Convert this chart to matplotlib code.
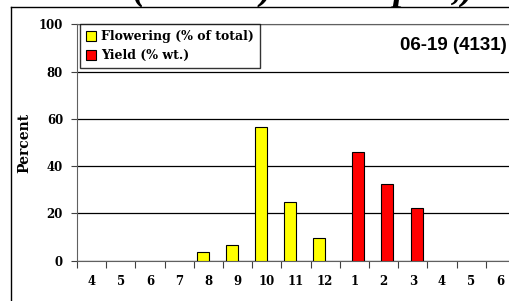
import matplotlib.pyplot as plt
import numpy as np

months = ["4", "5", "6", "7", "8", "9", "10", "11", "12", "1", "2", "3", "4", "5", "6"]
flowering = [0, 0, 0, 0, 3.5, 6.5, 56.5, 25, 9.7, 0, 0, 0, 0, 0, 0]
yield_wt = [0, 0, 0, 0, 0, 0, 0, 0, 0, 45.8, 32.6, 22.2, 0, 0, 0]

serif = ["DejaVu Serif"]

def main():
    fig = plt.figure(figsize=(5.09, 3.01), dpi=100)

    # outer frame of the pasted chart, cut off on the right and bottom
    fig.add_artist(plt.Line2D([11 / 509, 11 / 509], [0, 1 - 7 / 301], color="black", lw=1))
    fig.add_artist(plt.Line2D([11 / 509, 1], [1 - 7 / 301, 1 - 7 / 301], color="black", lw=1))

    # title from the page above, only its lower part is visible
    fig.text(0.56, 1 + 10.5 / 301, "ents (96-00L) 12-22. p59,) N", ha="center", va="center",
             fontsize=28, fontweight="bold", fontstyle="italic", family=["Liberation Serif"])

    ax = fig.add_axes([77 / 509, 40.3 / 301, 438 / 509, 236.5 / 301])
    x = np.arange(len(months))
    f = [v if v > 0 else np.nan for v in flowering]
    y = [v if v > 0 else np.nan for v in yield_wt]
    ax.bar(x - 0.2, f, width=0.41, color="#FFFF00", edgecolor="black", lw=0.8,
           label="Flowering (% of total)", zorder=3)
    ax.bar(x + 0.13, y, width=0.41, color="#FF0000", edgecolor="black", lw=0.8,
           label="Yield (% wt.)", zorder=3)

    ax.set_xlim(-0.5, len(months) - 0.5)
    ax.set_ylim(0, 100)
    ax.set_yticks([0, 20, 40, 60, 80, 100])
    ax.yaxis.grid(True, color="black", lw=0.9, zorder=1)
    ax.set_xticks(np.arange(len(months) + 1) - 0.5)
    ax.set_xticklabels([])
    ax.set_xticks(x, minor=True)
    ax.set_xticklabels(months, minor=True)
    ax.tick_params(axis="x", which="major", length=5, direction="out", color="#404040")
    ax.tick_params(axis="x", which="minor", length=0, pad=10)
    ax.tick_params(axis="y", length=4, color="#404040", pad=6)
    for lab in ax.get_xticklabels(minor=True) + ax.get_yticklabels():
        lab.set_fontweight("bold")
        lab.set_family(serif)
        lab.set_fontsize(8.5)
    for s in ["top", "left", "bottom"]:
        ax.spines[s].set_color("#606060")
    ax.spines["right"].set_visible(False)
    ax.set_ylabel("Percent", fontsize=10, fontweight="bold", family=serif, labelpad=5)

    leg = ax.legend(loc="upper left", bbox_to_anchor=(0.006, 1.0), fancybox=False,
                    edgecolor="black", prop={"family": serif, "weight": "bold", "size": 9},
                    handlelength=0.8, handleheight=0.8, handletextpad=0.4,
                    borderpad=0.5, labelspacing=0.45, borderaxespad=0)
    leg.get_frame().set_linewidth(1)

    ax.text(400 / 509, 1 - 45 / 301, "06-19 (4131)", transform=fig.transFigure,
            ha="left", va="center", fontsize=13.5, fontweight="bold",
            family=["Liberation Sans", "DejaVu Sans"])

    fig.savefig("out.png", dpi=100)

if __name__ == "__main__":
    main()
